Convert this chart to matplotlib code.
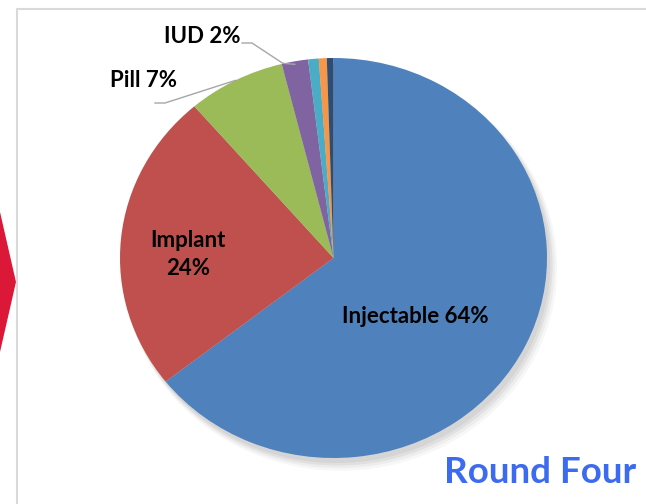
import numpy as np
import matplotlib
matplotlib.use("Agg")
import matplotlib.pyplot as plt
from matplotlib.patches import Ellipse, Polygon

plt.rcParams['font.family'] = ['Lato', 'DejaVu Sans']

# ---------------- data ----------------
methods = ["Injectable", "Implant", "Pill", "IUD", "Other 1", "Other 2", "Other 3"]
shares = [64.4, 24.3, 7.4, 2.0, 0.8, 0.6, 0.5]
colors = ["#4F81BD", "#C0504D", "#9BBB59", "#8064A2", "#4BACC6", "#F79646", "#2C4D75"]
title_text = "Round Four"

W, H = 646, 504
fig = plt.figure(figsize=(W / 100, H / 100), dpi=100)

# pie box in pixels (left, right, top, bottom)
pl, pr, pt, pb = 120, 547, 58, 458
cx, cy = (pl + pr) / 2, (pt + pb) / 2
rx, ry = (pr - pl) / 2, (pb - pt) / 2

# background / frame axes
bg = fig.add_axes([0, 0, 1, 1])
bg.set_xlim(0, W)
bg.set_ylim(H, 0)
bg.axis("off")
bg.plot([17, 17, W], [H, 9, 9], color="#D9D9D9", lw=1.5)
bg.add_patch(Polygon([[0, 212], [16, 282], [0, 352]], closed=True,
                     facecolor="#DC1838", edgecolor="none"))

# pie
ax = fig.add_axes([pl / W, 1 - pb / H, (pr - pl) / W, (pb - pt) / H])
for i, a in enumerate([0.05, 0.05, 0.04, 0.03]):
    sh = Ellipse((0.015 + 0.006 * i, -0.025 - 0.008 * i), 2.0 + 0.01 * i, 2.0 + 0.01 * i,
                 facecolor="black", alpha=a, edgecolor="none", zorder=0)
    sh.set_clip_on(False)
    ax.add_patch(sh)
wedges, _ = ax.pie(shares, colors=colors, startangle=90, counterclock=False,
                   wedgeprops=dict(edgecolor="none", linewidth=0))
ax.set_aspect("auto")
ax.set_xlim(-1, 1)
ax.set_ylim(-1, 1)
ax.axis("off")
for w in wedges:
    w.set_clip_on(False)

# overlay for labels
ov = fig.add_axes([0, 0, 1, 1], zorder=5)
ov.set_xlim(0, W)
ov.set_ylim(H, 0)
ov.axis("off")
ov.patch.set_alpha(0)


def edge_point(w, frac=1.0):
    t = np.deg2rad((w.theta1 + w.theta2) / 2)
    return cx + rx * frac * np.cos(t), cy - ry * frac * np.sin(t)


fs = 16
ov.text(415, 323, f"{methods[0]} {shares[0]:.0f}%", ha="center", va="baseline",
        fontsize=fs, fontweight="bold", color="black")
ov.text(188, 247, methods[1], ha="center", va="baseline", fontsize=fs, fontweight="bold")
ov.text(188, 275, f"{shares[1]:.0f}%", ha="center", va="baseline", fontsize=fs, fontweight="bold")

# Pill label with leader
ov.text(144, 87, f"{methods[2]} {shares[2]:.0f}%", ha="center", va="baseline",
        fontsize=fs, fontweight="bold")
px, py = edge_point(wedges[2])
ov.plot([155, 165, px], [103, 103, py], color="#A6A6A6", lw=1)

# IUD label with leader
ov.text(202, 43, f"{methods[3]} {shares[3]:.0f}%", ha="center", va="baseline",
        fontsize=fs, fontweight="bold")
ux, uy = edge_point(wedges[3])
ov.plot([242, 252, ux - 12, ux], [43, 43, uy + 2, uy + 3], color="#A6A6A6", lw=1)

ov.text(540, 483, title_text, ha="center", va="baseline", fontsize=26.5,
        fontweight="bold", color="#3D6BF0")

fig.savefig("out.png", dpi=100, facecolor="white")
